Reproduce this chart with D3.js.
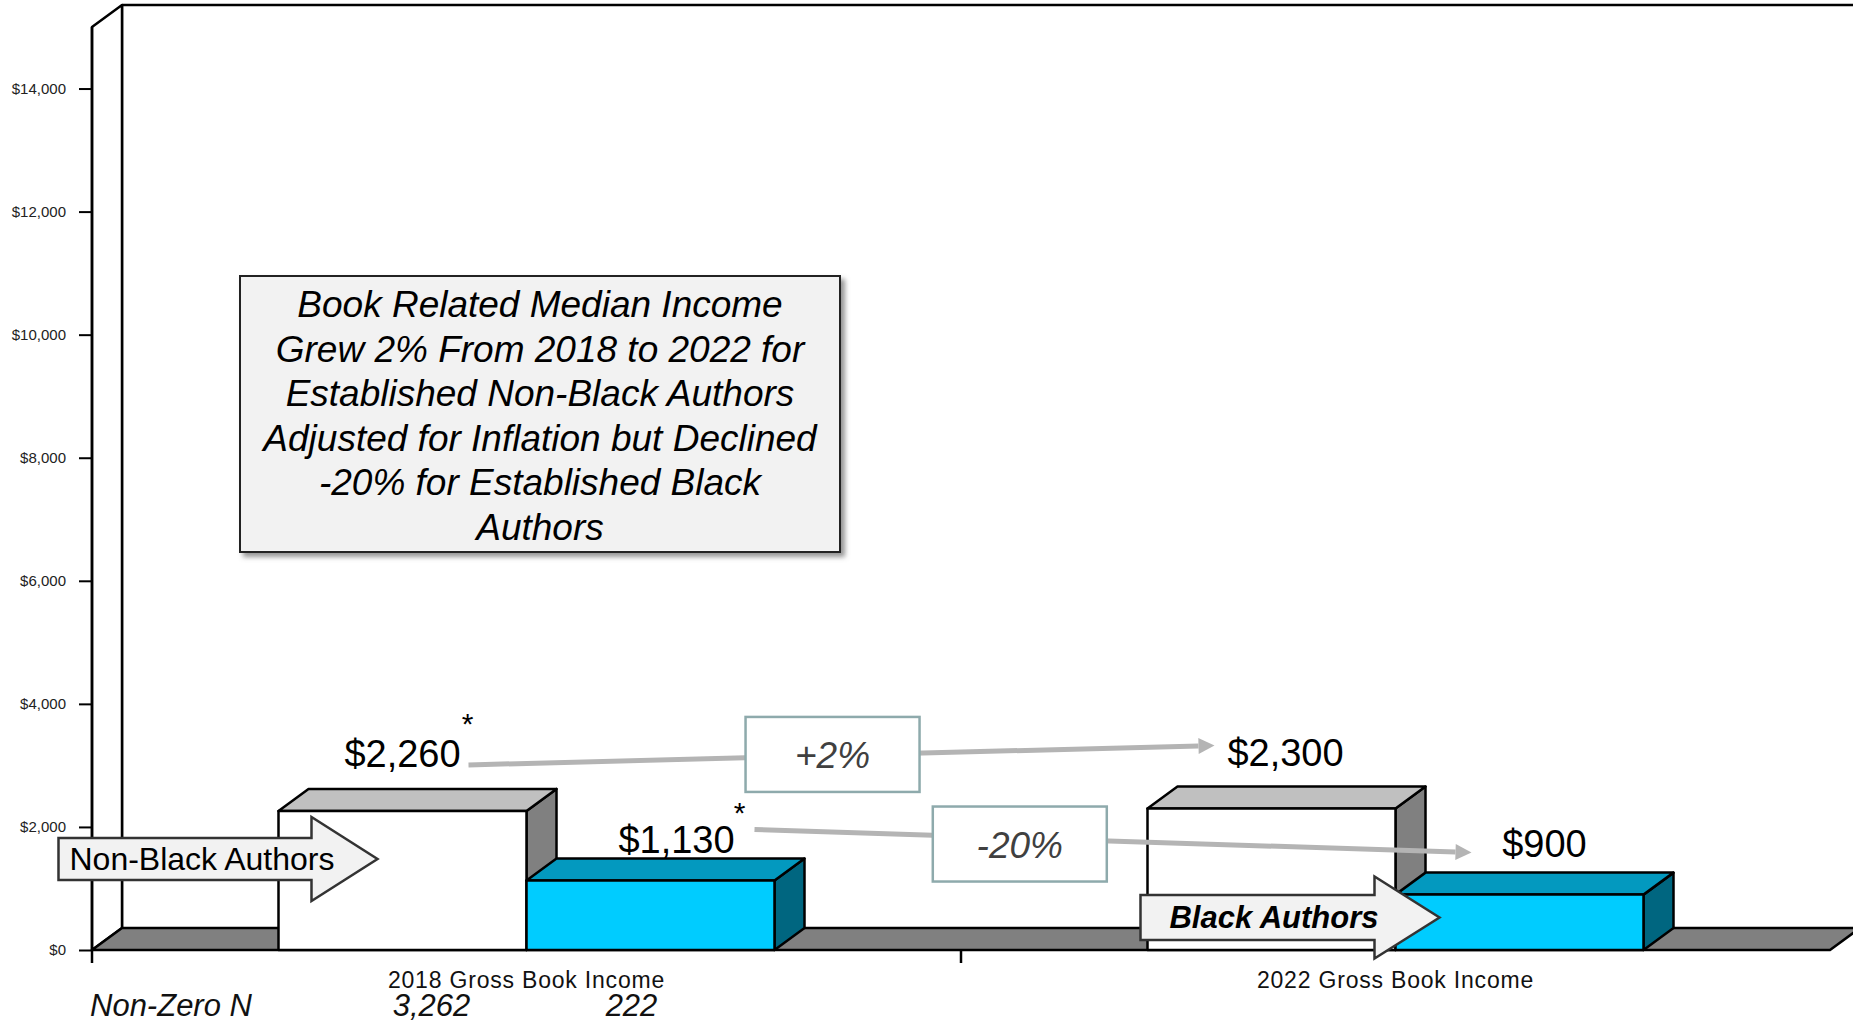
<!DOCTYPE html>
<html>
<head>
<meta charset="utf-8">
<script src="https://cdn.jsdelivr.net/npm/d3@7"></script>
<style>
  html, body { margin: 0; padding: 0; background: #fff; overflow: hidden; }
  svg { display: block; font-family: "Liberation Sans", Arial, sans-serif; }
</style>
</head>
<body>
<svg id="chart" width="1853" height="1022"></svg>
<script>
// ---- data ----
const categories = ["2018 Gross Book Income", "2022 Gross Book Income"];
const seriesNames = ["Non-Black Authors", "Black Authors"];
const nonBlackIncome = [2260, 2300];
const blackIncome = [1130, 900];
const yTickValues = [0, 2000, 4000, 6000, 8000, 10000, 12000, 14000];
const nonZeroN = ["3,262", "222"];           // 2018 respondents with income, per series
const changeLabels = ["+2%", "-20%"];        // 2018 -> 2022 change, per series
const significant = [true, true];            // asterisk on the 2018 values, per series
const summaryLines = [
  "Book Related Median Income",
  "Grew 2% From 2018 to 2022 for",
  "Established Non-Black Authors",
  "Adjusted for Inflation but Declined",
  "-20% for Established Black",
  "Authors"
];

// table built from the arrays above
const seriesValues = [nonBlackIncome, blackIncome];
const rows = [];
categories.forEach((c, ci) => seriesNames.forEach((s, si) =>
  rows.push({ cat: c, ci, series: s, si, value: seriesValues[si][ci] })));

// ---- layout ----
const svg = d3.select("#chart");
const W = 1853, H = 1022;
const depth = { dx: 30, dy: -22 };
const stroke = "#000";

const y = d3.scaleLinear().domain([0, 15000]).range([950, 27]);
const x = d3.scaleBand().domain(categories).range([92, 1830]);
const xs = d3.scaleBand().domain(seriesNames).range([0, x.bandwidth()])
  .paddingInner(0).paddingOuter(0.752);

const x0 = x.range()[0], x1 = x.range()[1];
const yBase = y(0), yTop = y(y.domain()[1]);

const colors = {
  "Non-Black Authors": { front: "#ffffff", top: "#c0c0c0", side: "#808080" },
  "Black Authors":     { front: "#00ccff", top: "#0399bf", side: "#006680" }
};

const defs = svg.append("defs");
defs.append("filter").attr("id", "shadow")
  .attr("x", "-5%").attr("y", "-5%").attr("width", "115%").attr("height", "115%")
  .append("feDropShadow")
  .attr("dx", 4).attr("dy", 4).attr("stdDeviation", 2.5)
  .attr("flood-color", "#7a7a7a").attr("flood-opacity", 0.8);

// ---- walls and floor ----
const walls = svg.append("g");
walls.append("line")
  .attr("x1", x0 + depth.dx).attr("x2", x0 + depth.dx)
  .attr("y1", yTop + depth.dy).attr("y2", yBase + depth.dy)
  .attr("stroke", stroke).attr("stroke-width", 2.5);
walls.append("line")
  .attr("x1", x0 + depth.dx).attr("x2", W + 10)
  .attr("y1", yTop + depth.dy).attr("y2", yTop + depth.dy)
  .attr("stroke", stroke).attr("stroke-width", 2.5);
walls.append("polygon")
  .attr("points", [[x0, yBase], [x0, yTop], [x0 + depth.dx, yTop + depth.dy], [x0 + depth.dx, yBase + depth.dy]].join(" "))
  .attr("fill", "#fff").attr("stroke", stroke).attr("stroke-width", 2.5).attr("stroke-linejoin", "round");
walls.append("polygon")
  .attr("points", [[x0, yBase], [x1, yBase], [x1 + depth.dx, yBase + depth.dy], [x0 + depth.dx, yBase + depth.dy]].join(" "))
  .attr("fill", "#808080").attr("stroke", stroke).attr("stroke-width", 2.5).attr("stroke-linejoin", "round");

// ---- value axis ----
const yAxis = svg.append("g").attr("transform", `translate(${x0},0)`)
  .call(d3.axisLeft(y).tickValues(yTickValues).tickSize(13).tickPadding(13)
    .tickFormat(d => "$" + d3.format(",")(d)));
yAxis.select(".domain").remove();
yAxis.selectAll(".tick line").attr("stroke", stroke).attr("stroke-width", 2);
yAxis.selectAll(".tick text").attr("fill", "#222").style("font-size", "15px")
  .style("font-family", "'Liberation Sans', Arial, sans-serif");

// ---- category axis ticks ----
svg.append("g").selectAll("line").data(categories).join("line")
  .attr("x1", d => x(d)).attr("x2", d => x(d))
  .attr("y1", yBase).attr("y2", yBase + 13)
  .attr("stroke", stroke).attr("stroke-width", 2.5);
svg.append("line").attr("x1", x0).attr("x2", x0).attr("y1", yTop).attr("y2", yBase)
  .attr("stroke", stroke).attr("stroke-width", 2.5);

// ---- 3D bars ----
function geom(r) {
  const bx0 = x(r.cat) + xs(r.series), bx1 = bx0 + xs.bandwidth();
  return { bx0, bx1, yt: y(r.value), yb: yBase, cx: (bx0 + bx1) / 2 };
}
const bars = svg.append("g");
rows.forEach(r => {
  const g = geom(r), c = colors[r.series];
  const gb = bars.append("g").attr("stroke", stroke).attr("stroke-width", 2.5).attr("stroke-linejoin", "round");
  gb.append("polygon")
    .attr("points", [[g.bx1, g.yt], [g.bx1 + depth.dx, g.yt + depth.dy], [g.bx1 + depth.dx, g.yb + depth.dy], [g.bx1, g.yb]].join(" "))
    .attr("fill", c.side);
  gb.append("polygon")
    .attr("points", [[g.bx0, g.yt], [g.bx1, g.yt], [g.bx1 + depth.dx, g.yt + depth.dy], [g.bx0 + depth.dx, g.yt + depth.dy]].join(" "))
    .attr("fill", c.top);
  gb.append("rect")
    .attr("x", g.bx0).attr("y", g.yt).attr("width", g.bx1 - g.bx0).attr("height", g.yb - g.yt)
    .attr("fill", c.front);
});

// ---- category labels and counts ----
svg.append("g").selectAll("text").data(categories).join("text")
  .attr("x", d => x(d) + x.bandwidth() / 2).attr("y", 988)
  .attr("text-anchor", "middle").style("font-size", "23px").attr("fill", "#111")
  .attr("letter-spacing", "0.8px")
  .text(d => d);

svg.append("text").attr("x", 90).attr("y", 1016)
  .style("font-size", "31px").style("font-style", "italic").attr("fill", "#111")
  .text("Non-Zero N");
const nOffsets = [29, -19];
svg.append("g").selectAll("text").data(nonZeroN).join("text")
  .attr("x", (d, i) => geom(rows[i]).cx + nOffsets[i]).attr("y", 1016)
  .attr("text-anchor", "middle").style("font-size", "31px").style("font-style", "italic").attr("fill", "#111")
  .text(d => d);

// ---- value labels ----
const fmt = v => "$" + d3.format(",")(v);
const labelOffsets = { "0-0": [0, -44], "0-1": [26, -27], "1-0": [14, -42], "1-1": [25, -38] };
const labelPos = {};
rows.forEach(r => {
  const g = geom(r), o = labelOffsets[r.ci + "-" + r.si];
  labelPos[r.ci + "-" + r.si] = { x: g.cx + o[0], y: g.yt + o[1] };
});
svg.append("g").selectAll("text").data(rows).join("text")
  .attr("x", r => labelPos[r.ci + "-" + r.si].x)
  .attr("y", r => labelPos[r.ci + "-" + r.si].y)
  .attr("text-anchor", "middle").style("font-size", "38px").attr("fill", "#000")
  .text(r => fmt(r.value));

const starOffsets = [[65, -33], [63, -30]];
seriesNames.forEach((s, si) => {
  if (!significant[si]) return;
  const p = labelPos["0-" + si];
  svg.append("text").attr("x", p.x + starOffsets[si][0]).attr("y", p.y + starOffsets[si][1])
    .attr("text-anchor", "middle").style("font-size", "30px").attr("fill", "#000").text("*");
});

// ---- change arrows ----
const arrowSpec = [
  { from: [66, -2], to: [-71, -21], t: 0.488, boxDy: -1 },
  { from: [78, -24], to: [-73, -4], t: 0.37, boxDy: 6 }
];
const arrows = svg.append("g");
seriesNames.forEach((s, si) => {
  const a = labelPos["0-" + si], b = labelPos["1-" + si], spec = arrowSpec[si];
  const sx = a.x + spec.from[0], sy = a.y + spec.from[1];
  const ex = b.x + spec.to[0], ey = b.y + spec.to[1];
  const ang = Math.atan2(ey - sy, ex - sx), hl = 16, hw = 8;
  const bx = ex - hl * Math.cos(ang), by = ey - hl * Math.sin(ang);
  arrows.append("line").attr("x1", sx).attr("y1", sy).attr("x2", bx).attr("y2", by)
    .attr("stroke", "#b4b4b4").attr("stroke-width", 5);
  arrows.append("polygon")
    .attr("points", [[ex, ey],
      [bx + hw * Math.sin(ang), by - hw * Math.cos(ang)],
      [bx - hw * Math.sin(ang), by + hw * Math.cos(ang)]].join(" "))
    .attr("fill", "#b4b4b4");
  const cx = sx + (ex - sx) * spec.t, cy = sy + (ey - sy) * spec.t + spec.boxDy;
  arrows.append("rect").attr("x", cx - 87).attr("y", cy - 37.5).attr("width", 174).attr("height", 75)
    .attr("fill", "#fff").attr("stroke", "#8eaaac").attr("stroke-width", 2.5);
  arrows.append("text").attr("x", cx).attr("y", cy + 14)
    .attr("text-anchor", "middle").style("font-size", "37px").style("font-style", "italic")
    .attr("fill", "#404040").text(changeLabels[si]);
});

// ---- series callout arrows (anchored to the non-black bar of each year) ----
function callout(left, yc, bodyW, bodyH, headW, headH) {
  const r = left + bodyW;
  return [[left, yc - bodyH / 2], [r, yc - bodyH / 2], [r, yc - headH / 2], [r + headW, yc],
          [r, yc + headH / 2], [r, yc + bodyH / 2], [left, yc + bodyH / 2]].join(" ");
}
const calloutSpec = [
  { anchor: [0, 0], left: -220, yOff: 48, bodyW: 253, bodyH: 42, headW: 66, headH: 84, tx: 11, weight: "normal", italic: "normal", size: 32 },
  { anchor: [1, 0], left: -7, yOff: 109, bodyW: 234, bodyH: 45, headW: 65, headH: 82, tx: 29, weight: "bold", italic: "italic", size: 31 }
];
const callouts = svg.append("g");
seriesNames.forEach((s, si) => {
  const c = calloutSpec[si];
  const r = rows.find(d => d.ci === c.anchor[0] && d.si === c.anchor[1]);
  const g = geom(r);
  const left = g.bx0 + c.left, yc = g.yt + c.yOff;
  callouts.append("polygon").attr("points", callout(left, yc, c.bodyW, c.bodyH, c.headW, c.headH))
    .attr("fill", "#f2f2f2").attr("stroke", "#333").attr("stroke-width", 2.5).attr("stroke-linejoin", "miter");
  callouts.append("text").attr("x", left + c.tx).attr("y", yc + 11)
    .style("font-size", c.size + "px").style("font-weight", c.weight).style("font-style", c.italic)
    .attr("fill", "#000").text(s);
});

// ---- summary note ----
const note = svg.append("g");
note.append("rect").attr("x", 240).attr("y", 276).attr("width", 600).attr("height", 276)
  .attr("fill", "#f2f2f2").attr("stroke", "#222").attr("stroke-width", 2).attr("filter", "url(#shadow)");
note.selectAll("text").data(summaryLines).join("text")
  .attr("x", 540).attr("y", (d, i) => 317 + i * 44.6)
  .attr("text-anchor", "middle").style("font-size", "37px").style("font-style", "italic")
  .attr("fill", "#000").text(d => d);
</script>
</body>
</html>
